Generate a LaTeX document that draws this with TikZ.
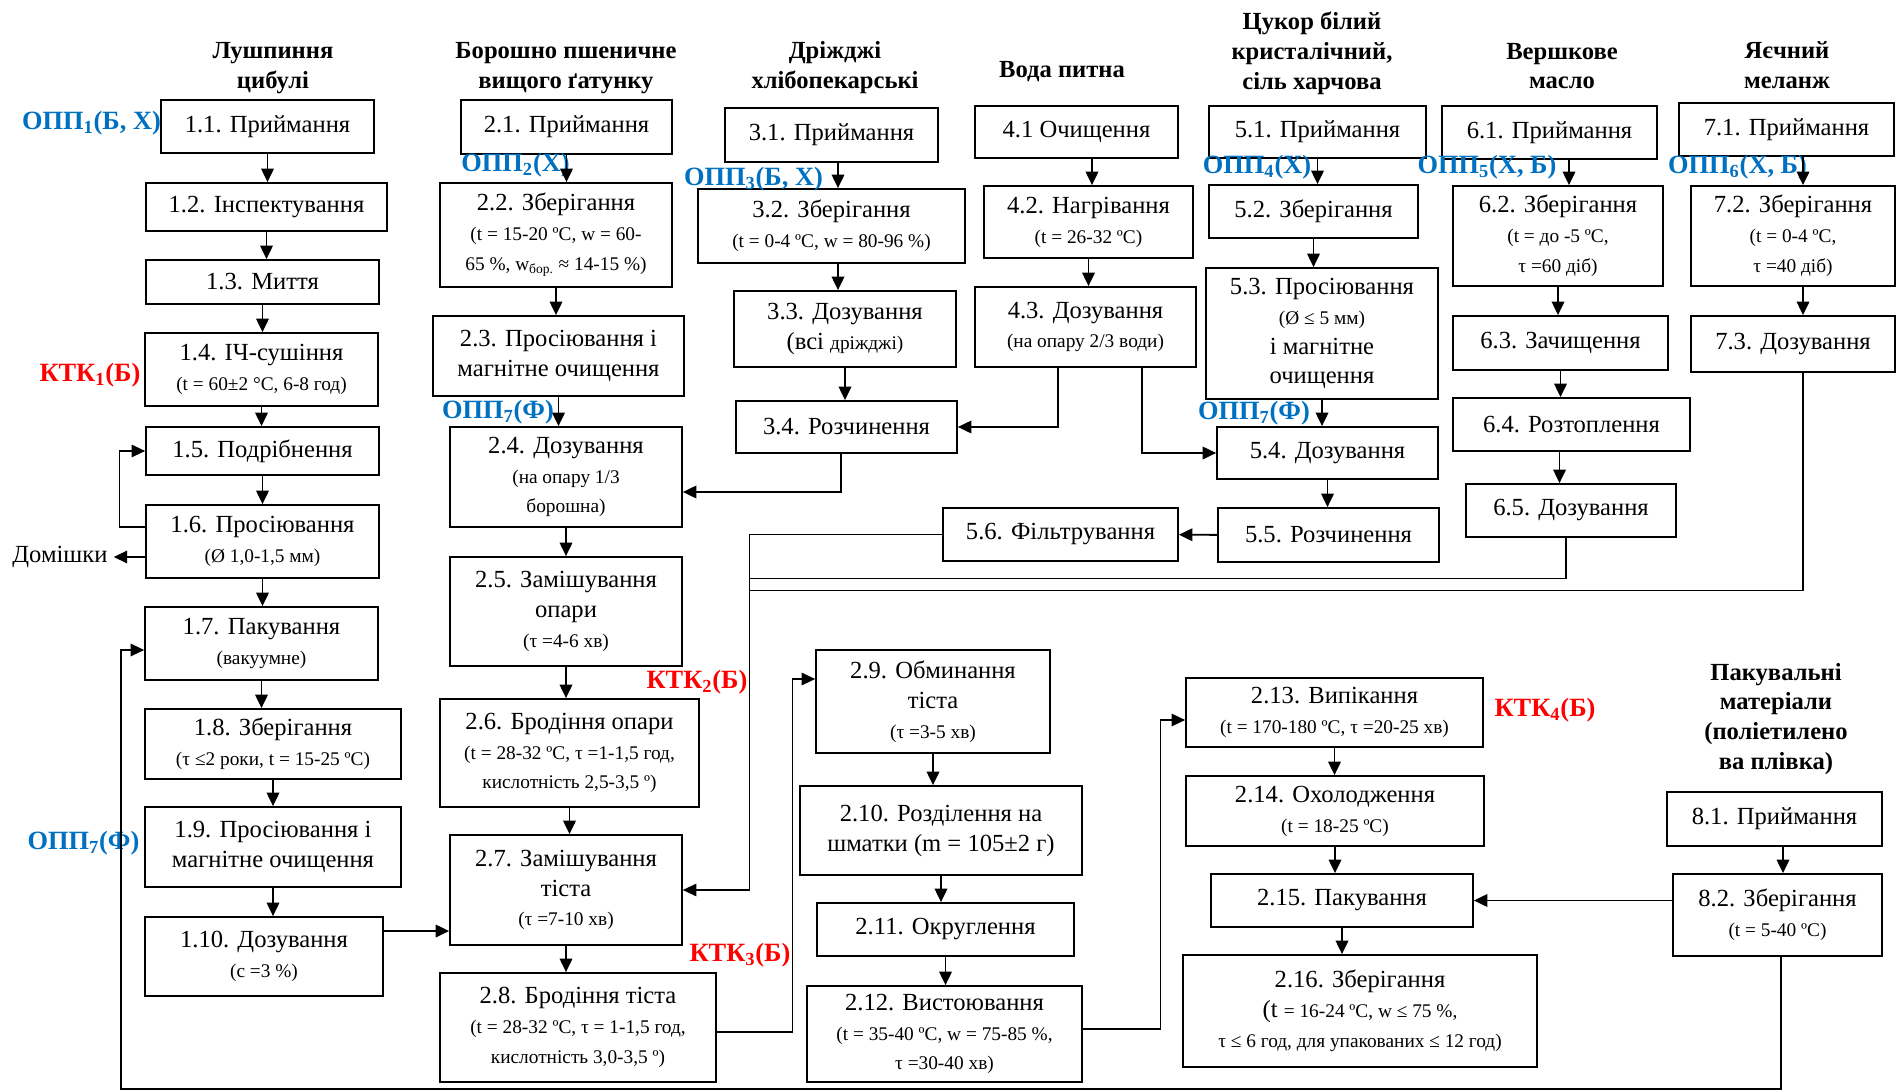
\documentclass[tikz,border=0pt]{standalone}
\usepackage{fontspec}
\setmainfont{Liberation Serif}
\usetikzlibrary{arrows.meta}
\definecolor{oppblue}{RGB}{0,112,192}
\definecolor{ktkred}{RGB}{255,0,0}
\newcommand{\main}{\fontsize{14}{17}\selectfont}
\newcommand{\sml}{\fontsize{11}{13}\selectfont}
\newcommand{\hdr}{\bfseries\fontsize{14}{17}\selectfont}
\newcommand{\lbl}{\bfseries\fontsize{15}{17}\selectfont}

\begin{document}
\begin{tikzpicture}[x=0.02cm, y=-0.02cm,
	box/.style={draw, line width=1pt, align=center, inner sep=1pt, font=\main},
	head/.style={align=center, font=\hdr},
	opp/.style={font=\lbl, text=oppblue, inner sep=0pt},
	ktk/.style={font=\lbl, text=ktkred, inner sep=0pt},
	arr/.style={-{Triangle[length=0.27cm,width=0.25cm]}, line width=1.1pt},
	larr/.style={-{Triangle[length=0.27cm,width=0.25cm]}, line width=0.7pt},
	link/.style={line width=0.7pt}]
	\useasboundingbox (0,0) rectangle (1897,1092);

	% headers
	\node[head] (h1) at (273,68) {Лушпиння\\цибулі};
	\node[head] (h2) at (566,68) {Борошно пшеничне\\вищого ґатунку};
	\node[head] (h3) at (835,68) {Дріжджі\\хлібопекарські};
	\node[head] (h4) at (1062,72) {Вода питна};
	\node[head] (h5) at (1312,53) {Цукор білий\\кристалічний,\\сіль харчова};
	\node[head] (h6) at (1562,66) {Вершкове\\масло};
	\node[head] (h7) at (1787,65) {Яєчний\\меланж};
	\node[head] (h8) at (1776,719) {Пакувальні\\матеріали\\(поліетилено\\ва плівка)};

	% onion husk
	\node[box, minimum width=4.26cm, minimum height=1.06cm] (p11) at (267.5,126.5) {1.1. Приймання};
	\node[box, minimum width=4.82cm, minimum height=0.96cm] (p12) at (266.5,207) {1.2. Інспектування};
	\node[box, minimum width=4.66cm, minimum height=0.88cm] (p13) at (262.5,282) {1.3. Миття};
	\node[box, minimum width=4.66cm, minimum height=1.46cm] (p14) at (261.5,369.5) {1.4. ІЧ-сушіння\\\sml (t = 60±2 °C, 6-8 год)};
	\node[box, minimum width=4.66cm, minimum height=0.96cm] (p15) at (262.5,451) {1.5. Подрібнення};
	\node[box, minimum width=4.66cm, minimum height=1.46cm] (p16) at (262.5,541.5) {1.6. Просіювання\\\sml (Ø 1,0-1,5 мм)};
	\node[box, minimum width=4.66cm, minimum height=1.46cm] (p17) at (261.5,643.5) {1.7. Пакування\\\sml (вакуумне)};
	\node[box, minimum width=5.12cm, minimum height=1.40cm] (p18) at (273,744) {1.8. Зберігання\\\sml (τ ≤2 роки, t = 15-25 ºC)};
	\node[box, minimum width=5.12cm, minimum height=1.60cm] (p19) at (273,847) {1.9. Просіювання і\\магнітне очищення};
	\node[box, minimum width=4.76cm, minimum height=1.58cm] (p110) at (264,956.5) {1.10. Дозування\\\sml (с =3 \%)};
	\node[font=\main] (dom) at (60,557) {Домішки};

	% flour and dough
	\node[box, minimum width=4.22cm, minimum height=1.08cm] (p21) at (566.5,127) {2.1. Приймання};
	\node[box, minimum width=4.64cm, minimum height=2.08cm] (p22) at (556,235) {2.2. Зберігання\\\sml (t = 15-20 ºC, w = 60-\\\sml 65 \%, w\textsubscript{бор.} ≈ 14-15 \%)};
	\node[box, minimum width=5.02cm, minimum height=1.60cm] (p23) at (558.5,356) {2.3. Просіювання і\\магнітне очищення};
	\node[box, minimum width=4.64cm, minimum height=2.00cm] (p24) at (566,477) {2.4. Дозування\\\sml (на опару 1/3\\\sml борошна)};
	\node[box, minimum width=4.64cm, minimum height=2.18cm] (p25) at (566,611.5) {2.5. Замішування\\опари\\\sml (τ =4-6 хв)};
	\node[box, minimum width=5.18cm, minimum height=2.16cm] (p26) at (569.5,753) {2.6. Бродіння опари\\\sml (t = 28-32 ºC, τ =1-1,5 год,\\\sml кислотність 2,5-3,5 º)};
	\node[box, minimum width=4.64cm, minimum height=2.20cm] (p27) at (566,890) {2.7. Замішування\\тіста\\\sml (τ =7-10 хв)};
	\node[box, minimum width=5.52cm, minimum height=2.18cm] (p28) at (578,1027.5) {2.8. Бродіння тіста\\\sml (t = 28-32 ºC, τ = 1-1,5 год,\\\sml кислотність 3,0-3,5 º)};
	\node[box, minimum width=4.68cm, minimum height=2.06cm] (p29) at (933,701.5) {2.9. Обминання\\тіста\\\sml (τ =3-5 хв)};
	\node[box, minimum width=5.64cm, minimum height=1.78cm] (p210) at (941,830.5) {2.10. Розділення на\\шматки (m = 105±2 г)};
	\node[box, minimum width=5.14cm, minimum height=1.06cm] (p211) at (945.5,929.5) {2.11. Округлення};
	\node[box, minimum width=5.50cm, minimum height=1.92cm] (p212) at (944.5,1034) {2.12. Вистоювання\\\sml (t = 35-40 ºC, w = 75-85 \%,\\\sml τ =30-40 хв)};
	\node[box, minimum width=5.94cm, minimum height=1.38cm] (p213) at (1334.5,712.5) {2.13. Випікання\\\sml (t = 170-180 ºC, τ =20-25 хв)};
	\node[box, minimum width=5.96cm, minimum height=1.40cm] (p214) at (1335,811) {2.14. Охолодження\\\sml (t = 18-25 ºC)};
	\node[box, minimum width=5.24cm, minimum height=1.06cm] (p215) at (1342,900.5) {2.15. Пакування};
	\node[box, minimum width=7.08cm, minimum height=2.24cm] (p216) at (1360,1011) {2.16. Зберігання\\(t {\sml = 16-24 ºC, w ≤ 75 \%,}\\\sml τ ≤ 6 год, для упакованих ≤ 12 год)};

	% yeast
	\node[box, minimum width=4.26cm, minimum height=1.08cm] (p31) at (831.5,135) {3.1. Приймання};
	\node[box, minimum width=5.34cm, minimum height=1.48cm] (p32) at (831.5,226) {3.2. Зберігання\\\sml (t = 0-4 ºC, w = 80-96 \%)};
	\node[box, minimum width=4.44cm, minimum height=1.52cm] (p33) at (845,329) {3.3. Дозування\\(всі {\sml дріжджі)}};
	\node[box, minimum width=4.42cm, minimum height=1.04cm] (p34) at (846.5,427) {3.4. Розчинення};

	% water
	\node[box, minimum width=4.06cm, minimum height=1.04cm] (p41) at (1076.5,132) {4.1 Очищення};
	\node[box, minimum width=4.18cm, minimum height=1.44cm] (p42) at (1088.5,222) {4.2. Нагрівання\\\sml (t = 26-32 ºC)};
	\node[box, minimum width=4.42cm, minimum height=1.60cm] (p43) at (1085.5,327) {4.3. Дозування\\\sml (на опару 2/3 води)};

	% sugar, salt
	\node[box, minimum width=4.34cm, minimum height=1.04cm] (p51) at (1317.5,132) {5.1. Приймання};
	\node[box, minimum width=4.18cm, minimum height=1.06cm] (p52) at (1313.5,211.5) {5.2. Зберігання};
	\node[box, minimum width=4.64cm, minimum height=2.62cm] (p53) at (1322,333.5) {5.3. Просіювання\\\sml (Ø ≤ 5 мм)\\і магнітне\\очищення};
	\node[box, minimum width=4.42cm, minimum height=1.04cm] (p54) at (1327.5,453) {5.4. Дозування};
	\node[box, minimum width=4.42cm, minimum height=1.08cm] (p55) at (1328.5,535) {5.5. Розчинення};
	\node[box, minimum width=4.70cm, minimum height=1.06cm] (p56) at (1060.5,534.5) {5.6. Фільтрування};

	% butter
	\node[box, minimum width=4.30cm, minimum height=1.06cm] (p61) at (1549.5,132.5) {6.1. Приймання};
	\node[box, minimum width=4.20cm, minimum height=2.00cm] (p62) at (1558,236) {6.2. Зберігання\\\sml (t = до -5 ºC,\\\sml τ =60 діб)};
	\node[box, minimum width=4.30cm, minimum height=1.08cm] (p63) at (1560.5,343) {6.3. Зачищення};
	\node[box, minimum width=4.74cm, minimum height=1.06cm] (p64) at (1571.5,424.5) {6.4. Розтоплення};
	\node[box, minimum width=4.20cm, minimum height=1.06cm] (p65) at (1571,510.5) {6.5. Дозування};

	% egg melange
	\node[box, minimum width=4.30cm, minimum height=1.06cm] (p71) at (1786.5,129.5) {7.1. Приймання};
	\node[box, minimum width=4.08cm, minimum height=2.00cm] (p72) at (1793,236) {7.2. Зберігання\\\sml (t = 0-4 ºC,\\\sml τ =40 діб)};
	\node[box, minimum width=4.08cm, minimum height=1.12cm] (p73) at (1793,344) {7.3. Дозування};

	% packaging film
	\node[box, minimum width=4.30cm, minimum height=1.08cm] (p81) at (1774.5,819) {8.1. Приймання};
	\node[box, minimum width=4.18cm, minimum height=1.64cm] (p82) at (1777.5,915) {8.2. Зберігання\\\sml (t = 5-40 ºC)};

	% control points
	\node[opp] (o1) at (91.5,123) {ОПП\textsubscript{1}(Б, Х)};
	\node[opp] (o2) at (515.5,165) {ОПП\textsubscript{2}(Х)};
	\node[opp] (o3) at (753.5,179) {ОПП\textsubscript{3}(Б, Х)};
	\node[opp] (o4) at (1257,167) {ОПП\textsubscript{4}(Х)};
	\node[opp] (o5) at (1487,167) {ОПП\textsubscript{5}(Х, Б)};
	\node[opp] (o6) at (1737.5,167) {ОПП\textsubscript{6}(Х, Б)};
	\node[opp] (o7a) at (498,412) {ОПП\textsubscript{7}(Ф)};
	\node[opp] (o7b) at (1254,413) {ОПП\textsubscript{7}(Ф)};
	\node[opp] (o7c) at (83.5,843) {ОПП\textsubscript{7}(Ф)};
	\node[ktk] (k1) at (90,375) {КТК\textsubscript{1}(Б)};
	\node[ktk] (k2) at (697,682) {КТК\textsubscript{2}(Б)};
	\node[ktk] (k3) at (740,955) {КТК\textsubscript{3}(Б)};
	\node[ktk] (k4) at (1545,710) {КТК\textsubscript{4}(Б)};

	% straight steps
	\draw[arr] (p11) -- (p11 |- p12.north);
	\draw[arr] (p12) -- (p12 |- p13.north);
	\draw[arr] (p13) -- (p13 |- p14.north);
	\draw[arr] (p14) -- (p14 |- p15.north);
	\draw[arr] (p15) -- (p15 |- p16.north);
	\draw[arr] (p16) -- (p16 |- p17.north);
	\draw[arr] (p17) -- (p17 |- p18.north);
	\draw[arr] (p18) -- (p18 |- p19.north);
	\draw[arr] (p19) -- (p19 |- p110.north);
	\draw[arr] (p21) -- (p21 |- p22.north);
	\draw[arr] (p22) -- (p22 |- p23.north);
	\draw[arr] (p23) -- (p23 |- p24.north);
	\draw[arr] (p24) -- (p24 |- p25.north);
	\draw[arr] (p25) -- (p25 |- p26.north);
	\draw[arr] (p26) -- (p26 |- p27.north);
	\draw[arr] (p27) -- (p27 |- p28.north);
	\draw[arr] (p29) -- (p29 |- p210.north);
	\draw[arr] (p210) -- (p210 |- p211.north);
	\draw[arr] (p211) -- (p211 |- p212.north);
	\draw[arr] (p213) -- (p213 |- p214.north);
	\draw[arr] (p214) -- (p214 |- p215.north);
	\draw[arr] (p215) -- (p215 |- p216.north);
	\draw[arr] ([xshift=0.13cm]p31.south) -- ([xshift=0.13cm]p31.south |- p32.north);
	\draw[arr] ([xshift=0.13cm]p32.south) -- ([xshift=0.13cm]p32.south |- p33.north);
	\draw[arr] (p33) -- (p33 |- p34.north);
	\draw[arr] ([xshift=0.31cm]p41.south) -- ([xshift=0.31cm]p41.south |- p42.north);
	\draw[arr] (p42) -- (p42 |- p43.north);
	\draw[arr] (p51) -- (p51 |- p52.north);
	\draw[arr] (p52) -- (p52 |- p53.north);
	\draw[arr] (p53) -- (p53 |- p54.north);
	\draw[arr] (p54) -- (p54 |- p55.north);
	\draw[arr] (p55) -- (p56);
	\draw[arr] ([xshift=0.39cm]p61.south) -- ([xshift=0.39cm]p61.south |- p62.north);
	\draw[arr] (p62) -- (p62 |- p63.north);
	\draw[arr] (p63) -- (p63 |- p64.north);
	\draw[arr] ([xshift=-0.24cm]p64.south) -- ([xshift=-0.24cm]p64.south |- p65.north);
	\draw[arr] ([xshift=0.33cm]p71.south) -- ([xshift=0.33cm]p71.south |- p72.north);
	\draw[arr] ([xshift=0.2cm]p72.south) -- ([xshift=0.2cm]p72.south |- p73.north);
	\draw[arr] ([xshift=0.17cm]p81.south) -- ([xshift=0.17cm]p81.south |- p82.north);

	% turns and joins
	\draw[larr] ([yshift=0.29cm]p16.west) -- ++(-0.52cm,0) |- (p15.west);
	\draw[arr] ([yshift=-0.31cm]p16.west) -- (dom);
	\draw[arr] ([yshift=0.51cm]p110.east) -- ([yshift=0.51cm]p110.east -| p27.west);
	\draw[larr] ([yshift=-0.09cm]p28.east) -- ++(1.52cm,0) |- ([yshift=0.45cm]p29.west);
	\draw[larr] ([yshift=0.1cm]p212.east) -- ++(1.56cm,0) |- ([yshift=-0.15cm]p213.west);
	\draw[arr] (p82.west |- p215.east) -- (p215.east);
	\coordinate (cnr) at (121,1089);
	\draw[larr] ([xshift=0.07cm]p82.south) |- (cnr) |- ([yshift=-0.13cm]p17.west);
	\draw[arr] ([xshift=-0.11cm]p34.south) |- ([yshift=-0.3cm]p24.east);
	\draw[arr] ([xshift=-0.55cm]p43.south) |- (p34.east);
	\draw[arr] ([xshift=1.13cm]p43.south) |- (p54.west);
	\coordinate (mix) at ([xshift=1.34cm]p27.east);
	\draw[larr] (p56.west) -| (mix) -- (p27.east);
	\draw[link] ([xshift=-0.1cm]p65.south) -- ++(0,-0.82cm) -| (mix);
	\draw[link] ([xshift=0.2cm]p73.south) -- ++(0,-4.36cm) -| (mix);
\end{tikzpicture}
\end{document}
